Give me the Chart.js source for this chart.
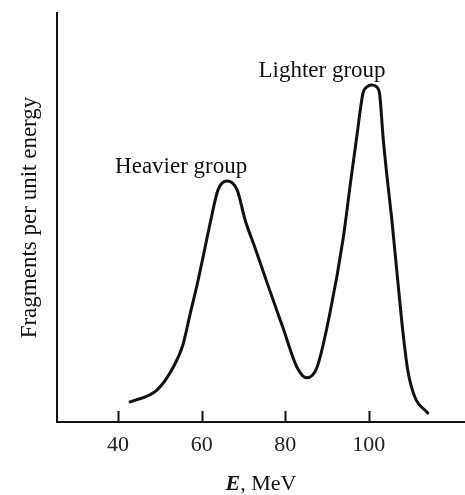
<!DOCTYPE html>
<html>
<head>
<meta charset="utf-8">
<script src="https://cdn.jsdelivr.net/npm/chart.js@4.4.1/dist/chart.umd.min.js"></script>
<style>
  html, body { margin: 0; padding: 0; background: #fff; }
  #wrap { width: 465px; height: 495px; }
</style>
</head>
<body>
<div id="wrap"><canvas id="chart"></canvas></div>
<script>
// fission fragment energy spectrum
const energies = [42.9, 49.3, 53.1, 55.5, 57.2, 58.9, 60.6, 62.2, 63.9, 66.1, 68.5, 70.4, 72.8, 75.6,
    79.4, 82.8, 85.2, 87.6, 90.7, 93.8, 95.7, 97.1, 98.6, 99.5, 100.7, 101.9, 102.6, 103.4,
    104.3, 105.5, 106.9, 108.1, 109.3, 111.0, 114.1];
const fragments = [4.9, 7.8, 13.2, 18.8, 26.2, 33.5, 41.6, 49.4, 56.7, 58.9, 56.7, 49.4, 42.5, 34.2,
    23.2, 13.4, 10.8, 13.4, 26.7, 44.5, 59.2, 69.7, 80.4, 81.9, 82.4, 81.9, 80.0, 69.7,
    60.4, 49.4, 34.7, 22.5, 12.7, 6.1, 2.2];
const tickValues = [40, 60, 80, 100];
const groupNames = ['Heavier group', 'Lighter group'];
const groupAt = [[55.1, 60.9], [88.8, 84.3]];

const serif = "'Liberation Serif', 'Times New Roman', serif";
const ink = '#111';

const figureExtras = {
    id: 'figureExtras',
    afterDraw(chart) {
        const { ctx, chartArea, scales: { x, y } } = chart;
        ctx.save();

        // inward tick marks
        ctx.strokeStyle = ink;
        ctx.lineWidth = 2;
        tickValues.forEach(v => {
            const px = Math.round(x.getPixelForValue(v)) + 0.5;
            ctx.beginPath();
            ctx.moveTo(px, chartArea.bottom);
            ctx.lineTo(px, chartArea.bottom - 11);
            ctx.stroke();
        });

        ctx.fillStyle = ink;

        // peak labels
        ctx.font = '23px ' + serif;
        ctx.textAlign = 'center';
        ctx.textBaseline = 'alphabetic';
        groupNames.forEach((name, i) => {
            ctx.fillText(name, x.getPixelForValue(groupAt[i][0]), y.getPixelForValue(groupAt[i][1]));
        });

        // x title: bold italic E
        const cx = (chartArea.left + chartArea.right) / 2;
        ctx.textAlign = 'left';
        ctx.font = 'italic bold 22px ' + serif;
        const wE = ctx.measureText('E').width;
        ctx.font = '22px ' + serif;
        const wRest = ctx.measureText(', MeV').width;
        let sx = cx - (wE + wRest) / 2;
        ctx.font = 'italic bold 22px ' + serif;
        ctx.fillText('E', sx, 490);
        ctx.font = '22px ' + serif;
        ctx.fillText(', MeV', sx + wE, 490);

        // y title
        ctx.translate(36, (chartArea.top + chartArea.bottom) / 2);
        ctx.rotate(-Math.PI / 2);
        ctx.textAlign = 'center';
        ctx.font = '23px ' + serif;
        ctx.fillText('Fragments per unit energy', 0, 0);

        ctx.restore();
    }
};

new Chart(document.getElementById('chart').getContext('2d'), {
    type: 'line',
    data: {
        datasets: [{
            data: energies.map((e, i) => ({ x: e, y: fragments[i] })),
            borderColor: ink,
            borderWidth: 3,
            pointRadius: 0,
            fill: false,
            cubicInterpolationMode: 'monotone',
            borderCapStyle: 'round',
            borderJoinStyle: 'round'
        }]
    },
    options: {
        responsive: true,
        maintainAspectRatio: false,
        animation: false,
        layout: { padding: { top: 13, left: 57, right: 0, bottom: 0 } },
        plugins: { legend: { display: false }, tooltip: { enabled: false } },
        scales: {
            x: {
                type: 'linear',
                min: 25.4,
                max: 123,
                afterBuildTicks: s => { s.ticks = tickValues.map(v => ({ value: v })); },
                afterFit: s => { s.height = 73; },
                grid: { display: false, drawTicks: false },
                border: { display: true, color: ink, width: 2 },
                ticks: { color: '#222', padding: 10, font: { family: serif, size: 22 } }
            },
            y: {
                min: 0,
                max: 100,
                afterFit: s => { s.width = 0; },
                grid: { display: false, drawTicks: false },
                border: { display: true, color: ink, width: 2 },
                ticks: { display: false }
            }
        }
    },
    plugins: [figureExtras]
});
</script>
</body>
</html>
